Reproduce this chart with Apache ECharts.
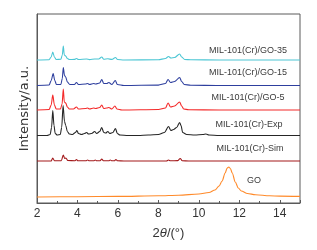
<!DOCTYPE html>
<html>
<head>
<meta charset="utf-8">
<script src="https://cdn.jsdelivr.net/npm/echarts@6/dist/echarts.min.js"></script>
<style>html,body{margin:0;padding:0;background:#fff}#c{width:317px;height:250px}</style>
</head>
<body>
<div id="c"></div>
<script>
// Series names (top to bottom)
var seriesNames = ['MIL-101(Cr)/GO-35', 'MIL-101(Cr)/GO-15', 'MIL-101(Cr)/GO-5', 'MIL-101(Cr)-Exp', 'MIL-101(Cr)-Sim', 'GO'];
// Vertical offsets of each pattern (a.u.)
var offsets = [143, 117.5, 93, 67.5, 42, 6];
var xTicks = [2, 4, 6, 8, 10, 12, 14];

// Intensity readings [2theta, intensity above own baseline]
var go35 = [[2,0],[2.6,0.3],[2.7,3],[2.78,8],[2.86,3],[2.95,0.5],[3.18,0.8],[3.25,5],[3.3,14],[3.35,5],[3.42,4],[3.5,1.5],[3.6,0.5],[3.85,0.6],[3.95,1.5],[4.05,0.5],[4.45,1],[4.6,0.4],[4.85,1],[5.05,1],[5.2,3],[5.3,0.8],[5.5,1.2],[5.7,0.6],[5.88,2.5],[5.98,0.5],[6.3,0],[8,0.3],[8.35,1.5],[8.5,3.5],[8.62,2],[8.8,2.5],[9.05,6],[9.15,3],[9.3,0.5],[9.6,0.2],[11,0],[15,0]];
var go15 = [[2,0],[2.6,0.5],[2.7,5],[2.8,12],[2.88,5],[2.96,1],[3.18,1],[3.25,7],[3.3,18],[3.36,10],[3.42,8.5],[3.5,3.5],[3.62,1],[3.85,1],[3.95,3],[4.05,1],[4.4,1.5],[4.5,2],[4.6,1],[4.8,2],[4.9,1.5],[5.1,2.5],[5.2,6],[5.3,2],[5.45,2],[5.55,3],[5.7,1],[5.87,5],[5.97,1],[6.3,0],[8,0.4],[8.35,2],[8.48,6],[8.6,3],[8.8,4],[9.05,8],[9.15,4],[9.28,1],[9.6,0.3],[11,0],[15,0]];
var go5 = [[2,0],[2.6,0.5],[2.7,5],[2.78,15],[2.86,5],[2.95,1],[3.16,1],[3.24,6],[3.3,21],[3.35,8],[3.42,7],[3.5,3],[3.6,1],[3.8,1],[3.95,3],[4.05,1],[4.4,1.5],[4.5,2],[4.6,1],[4.8,2],[4.9,1.5],[5.1,2.5],[5.2,5],[5.3,1.5],[5.45,2],[5.55,2.5],[5.7,1],[5.85,4],[5.95,1],[6.2,0],[8,0.5],[8.35,2],[8.48,7],[8.6,3],[8.8,4],[9.05,8],[9.15,4],[9.25,1],[9.5,0.3],[11,0],[15,0]];
var exp = [[2,0],[2.5,0],[2.65,1],[2.72,8],[2.78,25],[2.84,10],[2.9,2],[3,0.5],[3.15,1],[3.22,8],[3.29,30],[3.36,14],[3.42,10],[3.5,4],[3.6,1.5],[3.75,1],[3.9,3],[3.97,5],[4.05,2],[4.2,1],[4.35,2],[4.45,3],[4.55,1.5],[4.7,2],[4.85,4],[4.95,2],[5.1,4],[5.2,8],[5.3,3],[5.4,2.5],[5.5,4],[5.6,2],[5.75,3],[5.88,7],[5.97,2],[6.1,0.5],[6.5,0],[7,0],[7.5,0.5],[8,1],[8.3,3],[8.5,9],[8.62,5],[8.75,6],[8.9,8],[9.05,13],[9.12,10],[9.2,3],[9.4,1],[9.8,0.5],[10.2,1],[10.35,1.5],[10.5,0.5],[11,0],[15,0]];
var sim = [[2,0],[2.7,0],[2.78,3],[2.86,0.3],[3.2,0.3],[3.3,6],[3.37,2.5],[3.43,3],[3.52,0.5],[3.88,0.3],[3.95,1.5],[4.02,0.2],[4.42,0.2],[4.5,1],[4.58,0.2],[4.8,0.2],[4.88,1],[4.95,0.2],[5.12,0.3],[5.2,2],[5.28,0.2],[5.55,0.2],[5.62,1],[5.7,0.2],[5.83,0.2],[5.9,1.5],[5.98,0.2],[6.3,0],[8.4,0],[8.5,1],[8.6,0.2],[8.95,0.4],[9.08,2.5],[9.18,0.3],[9.5,0],[15,0]];
var go = [[2,0],[4,0.3],[6,0.6],[8,1.2],[9,1.8],[10,3],[10.5,4.5],[10.8,7],[11,11],[11.15,16],[11.3,24],[11.4,29],[11.48,30],[11.56,28.5],[11.65,24],[11.8,15],[11.95,9],[12.1,6],[12.4,3.5],[12.8,2.2],[13.5,1.2],[14,0.9],[15,0.6]];

var patterns = [go35, go15, go5, exp, sim, go];
var colors = ['#4cc6d4', '#2e3f9e', '#f42a2a', '#262626', '#a3191b', '#ff8a2a'];

var chart = echarts.init(document.getElementById('c'), null, {renderer: 'canvas'});
var frameColor = '#5a5a5a';
var series = patterns.map(function (p, i) {
  return {
    name: seriesNames[i],
    type: 'line',
    showSymbol: false,
    symbol: 'none',
    smooth: 0.3,
    smoothMonotone: 'x',
    lineStyle: {color: colors[i], width: 1.1},
    data: p.map(function (d) { return [d[0], d[1] + offsets[i]]; }),
    z: 3
  };
});

var option = {
  animation: false,
  backgroundColor: '#fff',
  grid: {left: 37, right: 17, top: 14, bottom: 47, show: true, borderColor: frameColor, borderWidth: 1, backgroundColor: 'transparent'},
  xAxis: [{
    type: 'value', min: 2, max: 15, interval: 2,
    axisLine: {show: true, lineStyle: {color: frameColor, width: 1}},
    axisTick: {show: true, inside: true, length: 3, lineStyle: {color: frameColor}},
    minorTick: {show: true, splitNumber: 2, length: 2, lineStyle: {color: frameColor}},
    splitLine: {show: false},
    axisLabel: {color: '#333', fontSize: 12, fontFamily: 'Liberation Sans', margin: 5,
      formatter: function (v) { return xTicks.indexOf(v) >= 0 ? String(v) : ''; }},
    name: '2{i|θ}/(°)', nameLocation: 'middle', nameGap: 24,
    nameTextStyle: {color: '#333', fontSize: 13, fontFamily: 'Liberation Sans',
      rich: {i: {fontStyle: 'italic', fontSize: 13, fontFamily: 'Liberation Sans', color: '#333'}}}
  }],
  yAxis: [{
    type: 'value', min: 0, max: 189,
    axisLine: {show: true, lineStyle: {color: frameColor, width: 1}},
    axisTick: {show: false}, axisLabel: {show: false}, splitLine: {show: false},
    name: 'Intensity/a.u.', nameLocation: 'middle', nameGap: 6,
    nameTextStyle: {color: '#333', fontSize: 13, fontFamily: 'DejaVu Sans'}
  }],
  series: series,
  graphic: [
    {type: 'text', x: 248, y: 51, style: {text: seriesNames[0], fill: '#3a3a3a', font: '9px "Liberation Sans"', align: 'center', verticalAlign: 'middle'}},
    {type: 'text', x: 248, y: 73, style: {text: seriesNames[1], fill: '#3a3a3a', font: '9px "Liberation Sans"', align: 'center', verticalAlign: 'middle'}},
    {type: 'text', x: 248, y: 98, style: {text: seriesNames[2], fill: '#3a3a3a', font: '9px "Liberation Sans"', align: 'center', verticalAlign: 'middle'}},
    {type: 'text', x: 249, y: 125, style: {text: seriesNames[3], fill: '#3a3a3a', font: '9px "Liberation Sans"', align: 'center', verticalAlign: 'middle'}},
    {type: 'text', x: 250, y: 149, style: {text: seriesNames[4], fill: '#3a3a3a', font: '9px "Liberation Sans"', align: 'center', verticalAlign: 'middle'}},
    {type: 'text', x: 254, y: 181, style: {text: seriesNames[5], fill: '#3a3a3a', font: '9px "Liberation Sans"', align: 'center', verticalAlign: 'middle'}}
  ]
};
chart.setOption(option);
</script>
</body>
</html>
